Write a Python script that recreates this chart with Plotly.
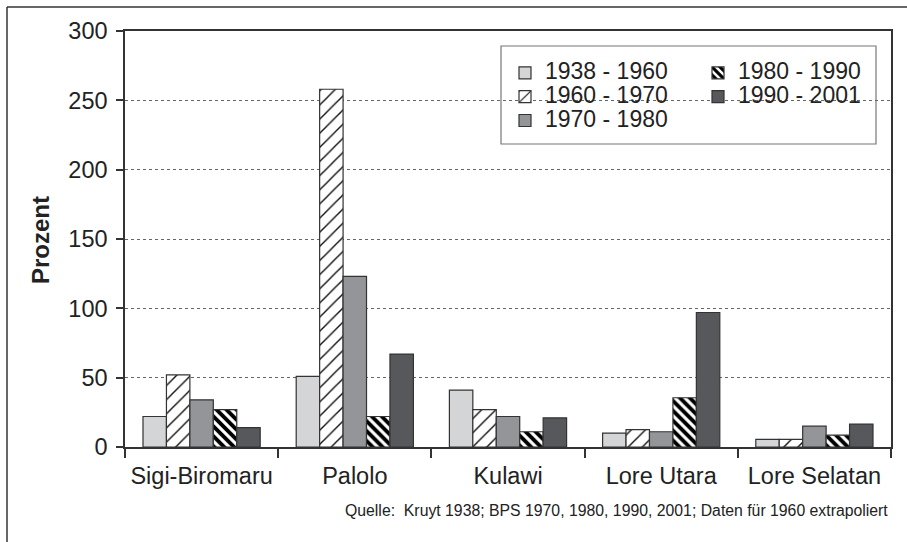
import plotly.graph_objects as go

categories = ["Sigi-Biromaru", "Palolo", "Kulawi", "Lore Utara", "Lore Selatan"]
series_names = ["1938 - 1960", "1960 - 1970", "1970 - 1980", "1980 - 1990", "1990 - 2001"]
v_1938_1960 = [22, 51, 41, 10, 5.5]
v_1960_1970 = [52, 258, 27, 12.5, 5.5]
v_1970_1980 = [34, 123, 22, 11, 15]
v_1980_1990 = [27, 22, 11, 35.5, 8.5]
v_1990_2001 = [14, 67, 21, 97, 16.5]
y_ticks = [0, 50, 100, 150, 200, 250, 300]
source_text = "Quelle:  Kruyt 1938; BPS 1970, 1980, 1990, 2001; Daten für 1960 extrapoliert"

FONT = "Liberation Sans, Arial, sans-serif"
TXT = "#222222"
EDGE = "#333333"

W, H = 907, 542
ML, MR, MT, MB = 125, 16, 31, 95
PW, PH = W - ML - MR, H - MT - MB

def px_x(p):
    return (p - ML) / PW

def px_y(p):
    return (H - MB - p) / PH

styles = [
    dict(color="#d4d5d7", pattern=None, legend="legend"),
    dict(color="#ffffff", pattern=dict(shape="/", fgcolor="#111111", bgcolor="#ffffff", size=10, solidity=0.14, fgopacity=1), legend="legend"),
    dict(color="#939598", pattern=None, legend="legend"),
    dict(color="#ffffff", pattern=dict(shape="\\", fgcolor="#000000", bgcolor="#ffffff", size=7, solidity=0.55, fgopacity=1), legend="legend2"),
    dict(color="#56585b", pattern=None, legend="legend2"),
]
values = [v_1938_1960, v_1960_1970, v_1970_1980, v_1980_1990, v_1990_2001]

fig = go.Figure()
for name, vals, st in zip(series_names, values, styles):
    marker = dict(color=st["color"], line=dict(color=EDGE, width=1.2))
    if st["pattern"]:
        marker["pattern"] = st["pattern"]
    label = '<span style="font-size:23px">' + name + '</span>'
    fig.add_trace(go.Bar(x=categories, y=vals, name=label, marker=marker, legend=st["legend"]))

legend_common = dict(
    font=dict(family=FONT, size=16, color=TXT),
    bgcolor="rgba(0,0,0,0)",
    borderwidth=0,
    orientation="v",
    xanchor="left",
    yanchor="top",
    tracegroupgap=0,
)

fig.update_layout(
    width=W, height=H,
    margin=dict(l=ML, r=MR, t=MT, b=MB, pad=0),
    paper_bgcolor="white",
    plot_bgcolor="white",
    barmode="group",
    bargap=0.235,
    bargroupgap=0,
    font=dict(family=FONT, size=23, color=TXT),
    legend=dict(x=px_x(505), y=px_y(56), **legend_common),
    legend2=dict(x=px_x(698), y=px_y(56), **legend_common),
    xaxis=dict(
        showline=True, linecolor=EDGE, linewidth=1.5, mirror=True,
        ticks="outside", ticklen=9, tickcolor=EDGE, tickwidth=1.5,
        tickson="boundaries",
        tickfont=dict(family=FONT, size=23.5, color=TXT),
        showgrid=False,
        ticklabelstandoff=7,
    ),
    yaxis=dict(
        range=[0, 300],
        tickvals=y_ticks,
        showline=True, linecolor=EDGE, linewidth=1.5, mirror=True,
        ticks="outside", ticklen=7, tickcolor=EDGE, tickwidth=1.5,
        tickfont=dict(family=FONT, size=23.5, color=TXT),
        showgrid=True, gridcolor="#666666", gridwidth=1, griddash="dot",
        zeroline=False,
        ticklabelstandoff=4,
    ),
    shapes=[
        dict(type="line", xref="paper", yref="paper",
             x0=px_x(7), x1=px_x(W + 5), y0=px_y(7), y1=px_y(7),
             line=dict(color="#333333", width=1.5)),
        dict(type="line", xref="paper", yref="paper",
             x0=px_x(7), x1=px_x(7), y0=px_y(7), y1=px_y(H + 5),
             line=dict(color="#333333", width=1.5)),
        dict(type="rect", xref="paper", yref="paper",
             x0=px_x(501), x1=px_x(876), y0=px_y(144), y1=px_y(46),
             line=dict(color="#777777", width=1.2), fillcolor="white", layer="below"),
    ],
    annotations=[
        dict(text="<b>Prozent</b>", xref="paper", yref="paper",
             x=px_x(40), y=px_y(240), textangle=-90, showarrow=False,
             font=dict(family=FONT, size=24, color=TXT), xanchor="center", yanchor="middle"),
        dict(text=source_text, xref="paper", yref="paper",
             x=px_x(890), y=px_y(511), showarrow=False, xanchor="right", yanchor="middle",
             font=dict(family=FONT, size=15.8, color=TXT)),
    ],
)

fig.write_html("out.html", config={"displayModeBar": False},
               post_script="document.body.style.margin='0';document.body.style.padding='0';")
